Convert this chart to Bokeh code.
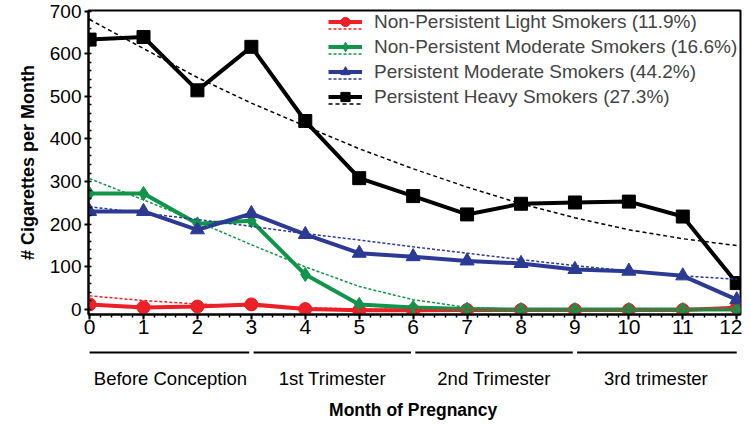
from bokeh.plotting import figure
from bokeh.models import Range1d, Legend, LegendItem, SingleIntervalTicker
from bokeh.layouts import column
from bokeh.embed import file_html
from bokeh.resources import INLINE
from bokeh.core.properties import value

# ---------------- data ----------------
months = list(range(13))

light = [12, 5, 7, 12, 1, -2, -2, -1, -1, -1, -1, -1, 4]
light_trend = [32, 21, 13, 8, 4, 1, 0, 0, 0, 0, 0, 0, 0]

np_moderate = [272, 272, 201, 208, 82, 12, 5, 1, 0, 0, 0, 0, 0]
np_moderate_trend = [307, 257, 206, 152, 100, 54, 23, 5, 0, 0, 0, 0, 0]

p_moderate = [230, 230, 187, 225, 176, 132, 124, 114, 108, 94, 90, 79, 23]
p_moderate_trend = [241, 226, 211, 195, 178, 163, 147, 132, 117, 103, 90, 79, 71]

heavy = [633, 639, 514, 616, 442, 308, 266, 223, 248, 251, 253, 218, 62]
heavy_trend = [680, 612, 544, 484, 430, 377, 330, 287, 248, 215, 187, 166, 150]

labels = [
    "Non-Persistent Light Smokers (11.9%)",
    "Non-Persistent Moderate Smokers (16.6%)",
    "Persistent Moderate Smokers (44.2%)",
    "Persistent Heavy Smokers (27.3%)",
]

period_names = ["Before Conception", "1st Trimester", "2nd Trimester", "3rd trimester"]
period_bounds = [0, 3, 6, 9, 12]

# ---------------- styles ----------------
colors = ["#ec2027", "#10954a", "#2c3a94", "#000000"]
markers = ["circle", "diamond", "triangle", "square"]
msizes = [13, 14, 14, 13]
dashes = ["3 2", "3 2", "3 2", "4 3"]
FONT = "Liberation Sans"

p = figure(
    frame_width=652, frame_height=304,
    x_range=Range1d(-0.02, 12.07), y_range=Range1d(-11.7, 701.2),
    output_backend="svg", toolbar_location=None,
    min_border_left=88, min_border_right=2, min_border_top=10, min_border_bottom=28,
)
p.grid.visible = False
p.outline_line_color = "black"
p.outline_line_width = 2
p.background_fill_color = "white"

p.xaxis.ticker = SingleIntervalTicker(interval=1, num_minor_ticks=5)
p.yaxis.ticker = SingleIntervalTicker(interval=100, num_minor_ticks=5)

for ax in (p.xaxis, p.yaxis):
    ax.axis_line_width = 2
    ax.axis_line_color = "black"
    ax.major_tick_line_width = 2
    ax.minor_tick_line_width = 1.5
    ax.major_label_text_font = FONT
    ax.major_label_text_color = "black"

p.xaxis.major_tick_out = 5
p.xaxis.major_tick_in = 0
p.xaxis.minor_tick_out = 3
p.xaxis.minor_tick_in = 0
p.xaxis.major_label_standoff = 0
p.xaxis.major_label_text_font_size = "21px"

p.yaxis.major_tick_out = 4
p.yaxis.major_tick_in = 0
p.yaxis.minor_tick_out = 0
p.yaxis.minor_tick_in = 3
p.yaxis.major_label_standoff = 3
p.yaxis.major_label_text_font_size = "19px"
p.yaxis.axis_label = "# Cigarettes per Month"
p.yaxis.axis_label_text_font = FONT
p.yaxis.axis_label_text_font_style = "bold"
p.yaxis.axis_label_text_font_size = "18px"
p.yaxis.axis_label_text_color = "black"
p.yaxis.axis_label_standoff = 9

all_vals = [light, np_moderate, p_moderate, heavy]
all_trend = [light_trend, np_moderate_trend, p_moderate_trend, heavy_trend]

solid_items = []
dash_items = []
for i in range(4):
    lr = p.line(months, all_vals[i], line_color=colors[i], line_width=4)
    mr = p.scatter(months, all_vals[i], marker=markers[i], size=msizes[i],
                   fill_color=colors[i], line_color=colors[i])
    solid_items.append(LegendItem(label=labels[i], renderers=[lr, mr]))

for i in range(4):
    dr = p.line(months, all_trend[i], line_color=colors[i], line_width=1.5,
                line_dash=dashes[i])
    dash_items.append(LegendItem(label=" ", renderers=[dr]))

legend_style = dict(glyph_width=34, glyph_height=23, label_height=23, spacing=2,
                    padding=0, margin=0, label_standoff=12,
                    label_text_font=FONT, label_text_font_size="19px",
                    background_fill_alpha=0, border_line_alpha=0)
leg_b = Legend(items=dash_items, location=(240, 199), **legend_style)
leg_a = Legend(items=solid_items, location=(240, 206), **legend_style)
p.add_layout(leg_b)
p.add_layout(leg_a)

# ---------------- lower panel: periods & axis title ----------------
p2 = figure(
    frame_width=652, frame_height=78,
    x_range=p.x_range, y_range=Range1d(78, 0),
    output_backend="svg", toolbar_location=None,
    min_border_left=88, min_border_right=2, min_border_top=0, min_border_bottom=0,
)
p2.axis.visible = False
p2.grid.visible = False
p2.outline_line_color = None

starts = period_bounds[:-1]
ends = period_bounds[1:]
x0 = [s + 0.04 if s > period_bounds[0] else s for s in starts]
x1 = [e - 0.04 if e < period_bounds[-1] else e for e in ends]
p2.segment(x0=x0, y0=[10] * 4, x1=x1, y1=[10] * 4, line_color="black", line_width=2)
centers = [(s + e) / 2 for s, e in zip(starts, ends)]
p2.text(x=centers, y=[36] * 4, text=period_names, text_align="center",
        text_baseline="middle", text_font=value(FONT), text_font_size="18.5px",
        text_color="black")
p2.text(x=[(period_bounds[0] + period_bounds[-1]) / 2], y=[67], text=["Month of Pregnancy"],
        text_align="center", text_baseline="middle", text_font=value(FONT),
        text_font_size="17.5px", text_font_style="bold", text_color="black")

layout = column(p, p2, spacing=0)
open("out.html", "w").write(file_html(layout, INLINE))
